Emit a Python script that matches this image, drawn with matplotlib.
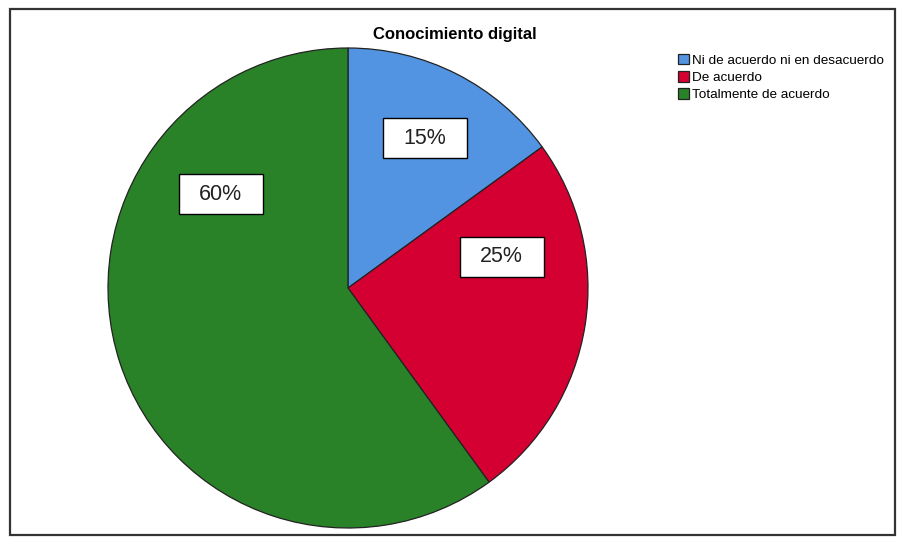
import matplotlib.pyplot as plt
from matplotlib.patches import Rectangle
from matplotlib.transforms import ScaledTranslation

plt.rcParams['font.family'] = ['Liberation Sans', 'DejaVu Sans']

categorias = ['Ni de acuerdo ni en desacuerdo', 'De acuerdo', 'Totalmente de acuerdo']
valores = [15, 25, 60]
colores = ['#5294E2', '#D50032', '#2A8228']
# posiciones de las etiquetas (coordenadas del pastel)
pos_etiquetas = [(0.32, 0.625), (0.64, 0.13), (-0.53, 0.39)]

fig = plt.figure(figsize=(8.98, 5.41), dpi=100)
fig.patch.set_facecolor('white')

# marco exterior
fig.patches.append(Rectangle((10/898, 6/541), 885/898, 526/541, transform=fig.transFigure,
                             fill=False, edgecolor='#333333', linewidth=1.6))

ax = fig.add_axes([108/898, 13/541, 480/898, 480/541])
wedges, _ = ax.pie(valores, colors=colores, startangle=90, counterclock=False,
                   wedgeprops=dict(edgecolor='#222222', linewidth=0.9))
ax.set_xlim(-1, 1)
ax.set_ylim(-1, 1)
ax.set_aspect('equal')
ax.axis('off')

for v, (x, y) in zip(valores, pos_etiquetas):
    trans = fig.dpi_scale_trans + ScaledTranslation(x, y, ax.transData)
    ax.add_patch(Rectangle((-0.42, -0.2), 0.84, 0.40, transform=trans, facecolor='white',
                           edgecolor='black', linewidth=1.0, zorder=3))
    ax.text(x, y, f'{v}%', ha='center', va='center', fontsize=15.5, color='#222222', zorder=4)

fig.text(455/898, 1 - 35/541, 'Conocimiento digital', ha='center', va='center',
         fontsize=12, fontweight='bold')

fig.legend(wedges, categorias, loc='upper left', bbox_to_anchor=(675/898, 1 - 51/541),
           frameon=False, fontsize=9.7, handlelength=0.85, handleheight=0.85,
           handletextpad=0.2, labelspacing=0.3, borderpad=0.2, borderaxespad=0)

fig.savefig('out.png', dpi=100)
